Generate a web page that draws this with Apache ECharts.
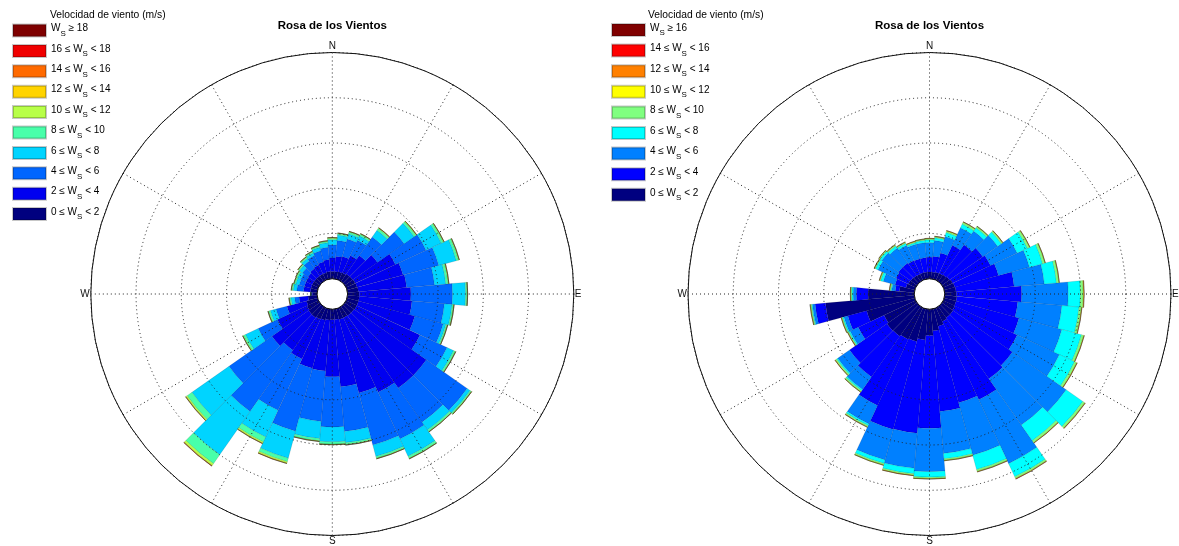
<!DOCTYPE html>
<html><head><meta charset="utf-8">
<script src="https://cdn.jsdelivr.net/npm/echarts@6/dist/echarts.min.js"></script>
<style>html,body{margin:0;padding:0;background:#fff}#c{width:1179px;height:546px}</style>
</head><body><div id="c"></div>
<script>
// Wind direction sectors (degrees clockwise from North)
const directions = [0,10,20,30,40,50,60,70,80,90,100,110,120,130,140,150,160,170,180,190,200,210,220,230,240,250,260,270,280,290,300,310,320,330,340,350];
const compassLabels = {0:'N',90:'E',180:'S',270:'W'};

// ---- Left rose: speed class bounds and frequencies per direction ----
const leftBounds = [0,2,4,6,8,10,12,14,16,18];
const left_0_2   = [0.16,0.16,0.17,0.18,0.20,0.21,0.22,0.23,0.24,0.26,0.26,0.26,0.26,0.25,0.25,0.24,0.24,0.23,0.23,0.24,0.26,0.28,0.30,0.30,0.28,0.25,0.20,0.10,0.15,0.15,0.15,0.15,0.15,0.15,0.15,0.16];
const left_2_4   = [0.30,0.34,0.35,0.42,0.50,0.67,0.98,1.05,1.07,1.14,1.17,1.29,1.54,1.95,1.95,1.82,1.69,1.49,1.26,1.13,1.10,0.97,0.88,0.99,0.72,0.45,0.20,0.02,0.15,0.15,0.15,0.17,0.20,0.22,0.25,0.27];
const left_4_6   = [0.29,0.35,0.40,0.37,0.50,0.72,0.75,0.82,0.62,0.92,0.72,0.65,0.66,1.10,0.92,1.14,1.19,0.99,1.11,1.12,1.44,1.25,1.65,1.16,0.47,0.25,0.10,0.01,0.15,0.12,0.13,0.15,0.20,0.23,0.25,0.27];
const left_6_8   = [0.11,0.12,0.12,0.11,0.18,0.27,0.37,0.40,0.25,0.29,0.17,0.06,0.16,0.08,0.21,0.42,0.26,0.25,0.33,0.38,0.62,0.65,1.17,1.00,0.31,0.13,0.08,0.005,0.08,0.08,0.08,0.08,0.07,0.06,0.08,0.10];
const left_8_10  = [0.03,0.03,0.04,0.04,0.05,0.05,0.05,0.05,0.05,0.03,0.03,0.03,0.04,0.03,0.04,0.05,0.04,0.04,0.05,0.05,0.08,0.12,0.24,0.13,0.05,0.04,0.03,0.005,0.03,0.03,0.03,0.03,0.03,0.03,0.03,0.03];
const left_10_12 = [0.015,0.01,0.01,0.01,0.015,0.015,0.015,0.015,0.015,0.01,0.01,0.01,0.01,0.01,0.01,0.01,0.01,0.01,0.01,0.01,0.03,0.03,0.05,0.03,0.015,0.01,0.01,0,0.01,0.01,0.01,0.01,0.01,0.01,0.01,0.01];
const left_12_14 = [0.005,0.005,0.005,0.005,0.005,0.005,0.005,0.005,0.005,0.005,0.005,0.005,0.005,0.005,0.005,0.005,0.005,0.005,0.005,0.005,0.01,0.01,0.01,0.01,0.005,0.005,0.005,0,0.005,0.005,0.005,0.005,0.005,0.005,0.005,0.005];
const left_14_16 = [0,0,0,0,0,0,0,0,0,0,0,0,0,0,0,0,0,0,0,0,0.003,0.003,0.004,0.003,0,0,0,0,0,0,0,0,0,0,0,0];
const left_16_18 = [0,0,0,0,0,0,0,0,0,0,0,0,0,0,0,0,0,0,0,0,0,0,0.002,0,0,0,0,0,0,0,0,0,0,0,0,0];
const left_18_up = [0,0,0,0,0,0,0,0,0,0,0,0,0,0,0,0,0,0,0,0,0,0,0.001,0,0,0,0,0,0,0,0,0,0,0,0,0];
const leftColors = ['#00007f','#0000f0','#0066ff','#00d4ff','#48ffaa','#b8ff48','#ffd400','#ff6a00','#f00000','#7f0000'];

// ---- Right rose ----
const rightBounds = [0,2,4,6,8,10,12,14,16];
const right_0_2   = [0.15,0.15,0.16,0.17,0.18,0.20,0.22,0.24,0.25,0.26,0.27,0.27,0.28,0.30,0.30,0.33,0.40,0.48,0.58,0.68,0.75,0.77,0.80,0.81,0.77,1.10,1.97,1.02,0.33,0.20,0.18,0.17,0.16,0.15,0.15,0.15];
const right_2_4   = [0.33,0.35,0.44,0.68,0.81,0.90,0.93,1.00,1.29,1.44,1.35,1.44,1.52,1.60,1.65,1.91,1.75,1.79,2.05,2.07,2.01,1.61,1.10,1.01,0.63,0.43,0.23,0.26,0.09,0.25,0.30,0.33,0.34,0.33,0.32,0.32];
const right_4_6   = [0.32,0.35,0.38,0.43,0.37,0.40,0.65,0.71,0.67,1.03,0.98,0.98,1.03,1.45,1.25,1.56,1.20,0.93,0.96,0.78,0.70,0.45,0.34,0.32,0.20,0.09,0.06,0.07,0.08,0.27,0.44,0.45,0.40,0.37,0.33,0.33];
const right_6_8   = [0.06,0.06,0.09,0.09,0.09,0.10,0.25,0.30,0.27,0.27,0.38,0.45,0.37,0.45,0.42,0.32,0.33,0.12,0.12,0.12,0.08,0.04,0.03,0.03,0.03,0.03,0.02,0.03,0.02,0.06,0.06,0.05,0.06,0.05,0.04,0.05];
const right_8_10  = [0.02,0.02,0.03,0.04,0.03,0.03,0.05,0.05,0.05,0.06,0.05,0.05,0.05,0.05,0.05,0.04,0.04,0.03,0.03,0.03,0.03,0.03,0.03,0.03,0.02,0.02,0.02,0.02,0.02,0.02,0.02,0.02,0.02,0.02,0.02,0.02];
const right_10_12 = [0.01,0.01,0.01,0.01,0.01,0.01,0.01,0.01,0.01,0.015,0.01,0.01,0.01,0.01,0.01,0.01,0.01,0.01,0.01,0.01,0.01,0.01,0.01,0.01,0.01,0.01,0.01,0.01,0.01,0.01,0.01,0.01,0.01,0.01,0.01,0.01];
const right_12_14 = [0.003,0.003,0.003,0.003,0.003,0.003,0.003,0.003,0.003,0.005,0.005,0.005,0.005,0.005,0.005,0.005,0.005,0.003,0.003,0.003,0.003,0.003,0.003,0.003,0.003,0.003,0.003,0.003,0.003,0.003,0.003,0.003,0.003,0.003,0.003,0.003];
const right_14_16 = [0,0,0,0,0,0,0,0,0,0.002,0,0,0,0.002,0,0.002,0,0,0,0,0,0,0,0,0,0,0,0,0,0,0,0,0,0,0,0];
const right_16_up = [0,0,0,0,0,0,0,0,0,0,0,0,0,0,0,0,0,0,0,0,0,0,0,0,0,0,0,0,0,0,0,0,0,0,0,0];
const rightColors = ['#000080','#0000ff','#0080ff','#00ffff','#80ff80','#ffff00','#ff8000','#ff0000','#800000'];

const leftSeriesData = [left_0_2,left_2_4,left_4_6,left_6_8,left_8_10,left_10_12,left_12_14,left_14_16,left_16_18,left_18_up];
const rightSeriesData = [right_0_2,right_2_4,right_4_6,right_6_8,right_8_10,right_10_12,right_12_14,right_14_16,right_16_up];

// ring axis (frequency units)
const ringMax = 5, ringStep = 1;

const FONT = 'Liberation Sans, Arial, sans-serif';
const LC = [332.3, 294], RC = [929.5, 294];
const RAD = [15.3, 241.5];

function gridAxes(pi) {
  return {
    angle: {
      polarIndex: pi, type: 'value', min: 0, max: 360, interval: 30,
      startAngle: 90, clockwise: true, z: 6,
      axisLine: {show: true, lineStyle: {color: '#111', width: 1}},
      axisTick: {show: false},
      splitLine: {show: true, lineStyle: {color: '#222', width: 1, type: [1, 3]}},
      axisLabel: {show: true, margin: 1, color: '#111', fontSize: 10, fontFamily: FONT,
        formatter: v => (v < 360 && compassLabels[v]) ? compassLabels[v] : ''}
    },
    radius: {
      polarIndex: pi, type: 'value', min: 0, max: ringMax, interval: ringStep, z: 6,
      axisLine: {show: false}, axisTick: {show: false}, axisLabel: {show: false},
      splitLine: {show: true, showMinLine: false, showMaxLine: false,
        lineStyle: {color: '#222', width: 1, type: [1, 3]}}
    }
  };
}
function barAxes(pi) {
  return {
    angle: {
      polarIndex: pi, type: 'category', data: directions.map(String),
      startAngle: 95, clockwise: true,
      axisLine: {show: false}, axisTick: {show: false}, axisLabel: {show: false}, splitLine: {show: false}
    },
    radius: {
      polarIndex: pi, type: 'value', min: 0, max: ringMax,
      axisLine: {show: false}, axisTick: {show: false}, axisLabel: {show: false}, splitLine: {show: false}
    }
  };
}
const g0 = gridAxes(0), b1 = barAxes(1), g2 = gridAxes(2), b3 = barAxes(3);

function makeSeries(prefix, dataArr, colors, pi, stack) {
  return dataArr.map((d, i) => ({
    name: prefix + i, type: 'bar', coordinateSystem: 'polar', polarIndex: pi,
    stack: stack, data: d, barCategoryGap: '0%', silent: true, z: 2,
    itemStyle: {color: colors[i], borderColor: 'rgba(0,0,0,0.22)', borderWidth: 0.5}
  }));
}
function legendLabel(bounds, idx) {
  const lo = bounds[idx];
  if (idx === bounds.length - 1) return '{n|W}{s|S}{n| \u2265 ' + lo + '}';
  return '{n|' + lo + ' \u2264 W}{s|S}{n| < ' + bounds[idx + 1] + '}';
}
function makeLegend(prefix, bounds, left, top, gap) {
  const names = bounds.map((b, i) => prefix + i).reverse();
  return {
    orient: 'vertical', left: left, top: top, padding: 0, itemWidth: 33, itemHeight: 12, itemGap: gap,
    selectedMode: false, icon: 'rect', data: names,
    formatter: name => legendLabel(bounds, +name.slice(prefix.length)),
    textStyle: {color: '#000', fontSize: 10, fontFamily: FONT,
      rich: {
        n: {fontSize: 10, fontFamily: FONT, color: '#000', lineHeight: 12, padding: [0, 0, 4, 0]},
        s: {fontSize: 8, fontFamily: FONT, color: '#000', lineHeight: 10, padding: [6, 0, 0, 0]}
      }}
  };
}

const chart = echarts.init(document.getElementById('c'), null, {renderer: 'canvas'});
chart.setOption({
  animation: false,
  backgroundColor: '#fff',
  polar: [
    {center: LC, radius: RAD}, {center: LC, radius: RAD},
    {center: RC, radius: RAD}, {center: RC, radius: RAD}
  ],
  angleAxis: [g0.angle, b1.angle, g2.angle, b3.angle],
  radiusAxis: [g0.radius, b1.radius, g2.radius, b3.radius],
  legend: [makeLegend('L', leftBounds, 12, 23.5, 6.4), makeLegend('R', rightBounds, 611, 23, 6.6)],
  series: [].concat(
    makeSeries('L', leftSeriesData, leftColors, 1, 'left'),
    makeSeries('R', rightSeriesData, rightColors, 3, 'right')
  ),
  graphic: [
    {type: 'text', left: 50, top: 10.5, style: {text: 'Velocidad de viento (m/s)', font: '10.3px ' + FONT, fill: '#000'}},
    {type: 'text', left: 648, top: 10.5, style: {text: 'Velocidad de viento (m/s)', font: '10.3px ' + FONT, fill: '#000'}},
    {type: 'text', x: LC[0], y: 26, style: {text: 'Rosa de los Vientos', font: 'bold 11.5px ' + FONT, fill: '#000', textAlign: 'center', textVerticalAlign: 'middle'}},
    {type: 'text', x: RC[0], y: 26, style: {text: 'Rosa de los Vientos', font: 'bold 11.5px ' + FONT, fill: '#000', textAlign: 'center', textVerticalAlign: 'middle'}}
  ]
});
</script></body></html>
